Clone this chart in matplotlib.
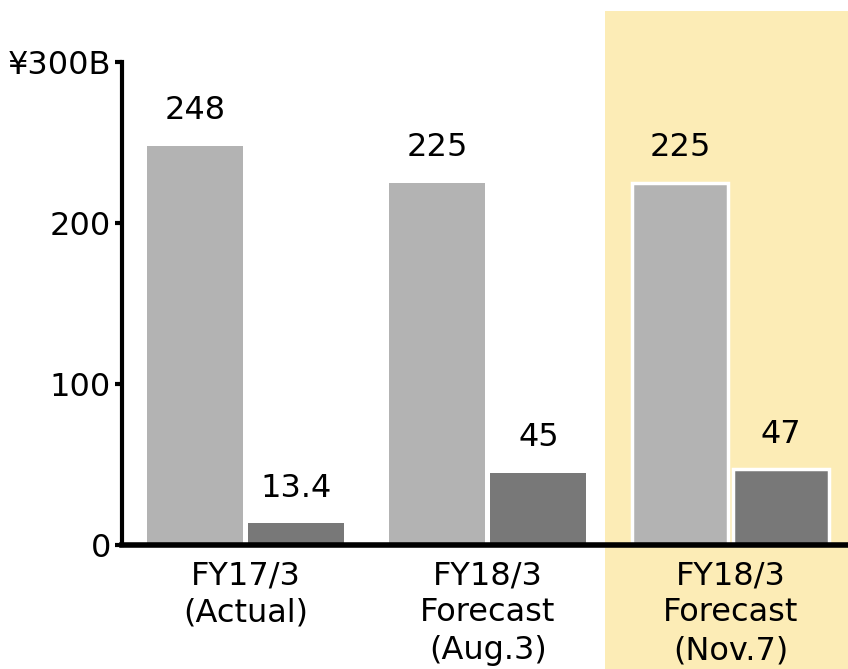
import matplotlib
matplotlib.use("Agg")
import matplotlib.pyplot as plt
from matplotlib.patches import Rectangle
import matplotlib.transforms as mtransforms

# data
grupos = ["FY17/3\n(Actual)", "FY18/3\nForecast", "FY18/3\nForecast"]
tercera_linea = ["", "(Aug.3)", "(Nov.7)"]
ventas = [248, 225, 225]
utilidad = [13.4, 45, 47]
etiquetas_ventas = ["248", "225", "225"]
etiquetas_utilidad = ["13.4", "45", "47"]
y_ticks = [0, 100, 200, 300]
y_labels = ["0", "100", "200", "¥300B"]

plt.rcParams["font.family"] = ["DejaVu Sans"]

fig = plt.figure(figsize=(8.48, 6.69), dpi=100)
ax = fig.add_axes([0.1439, 0.1853, 0.8561, 0.722])

x = list(range(len(grupos)))
ancho = 0.396
desp = 0.208
gris_claro = "#b3b3b3"
gris_oscuro = "#787878"
tam = 23

# highlighted last group (goes above and below the axes)
trans = mtransforms.blended_transform_factory(ax.transData, ax.transAxes)
ax.add_patch(Rectangle((1.482, -0.26), 1.2, 1.365, transform=trans,
                       facecolor="#fcecb6", edgecolor="none",
                       clip_on=False, zorder=0))

for i in x:
    borde = "white" if i == 2 else "none"
    lw = 2.5 if i == 2 else 0
    ax.bar(i - desp, ventas[i], width=ancho, color=gris_claro,
           edgecolor=borde, linewidth=lw, zorder=2)
    ax.bar(i + desp, utilidad[i], width=ancho, color=gris_oscuro,
           edgecolor=borde, linewidth=lw, zorder=2)
    ax.annotate(etiquetas_ventas[i], (i - desp, ventas[i]), xytext=(0, 14),
                textcoords="offset points", ha="center", va="bottom",
                fontsize=tam)
    ax.annotate(etiquetas_utilidad[i], (i + desp, utilidad[i]), xytext=(0, 14),
                textcoords="offset points", ha="center", va="bottom",
                fontsize=tam)
    if tercera_linea[i]:
        ax.text(i, -0.219, tercera_linea[i], transform=trans, ha="center",
                va="center", fontsize=tam)

ax.set_xlim(-0.509, 2.485)
ax.set_ylim(0, 300)
ax.set_xticks(x)
ax.set_xticklabels(grupos, fontsize=tam, linespacing=1.25)
ax.set_yticks(y_ticks)
ax.set_yticklabels(y_labels, fontsize=tam)
ax.tick_params(axis="x", length=0, pad=11)
ax.tick_params(axis="y", length=5, width=3, pad=3)

for lado in ["top", "right"]:
    ax.spines[lado].set_visible(False)
ax.spines["left"].set_linewidth(3)
ax.spines["bottom"].set_linewidth(4)
ax.spines["left"].set_zorder(3)
ax.spines["bottom"].set_zorder(3)
ax.patch.set_visible(False)

fig.savefig("out.png", dpi=100)
